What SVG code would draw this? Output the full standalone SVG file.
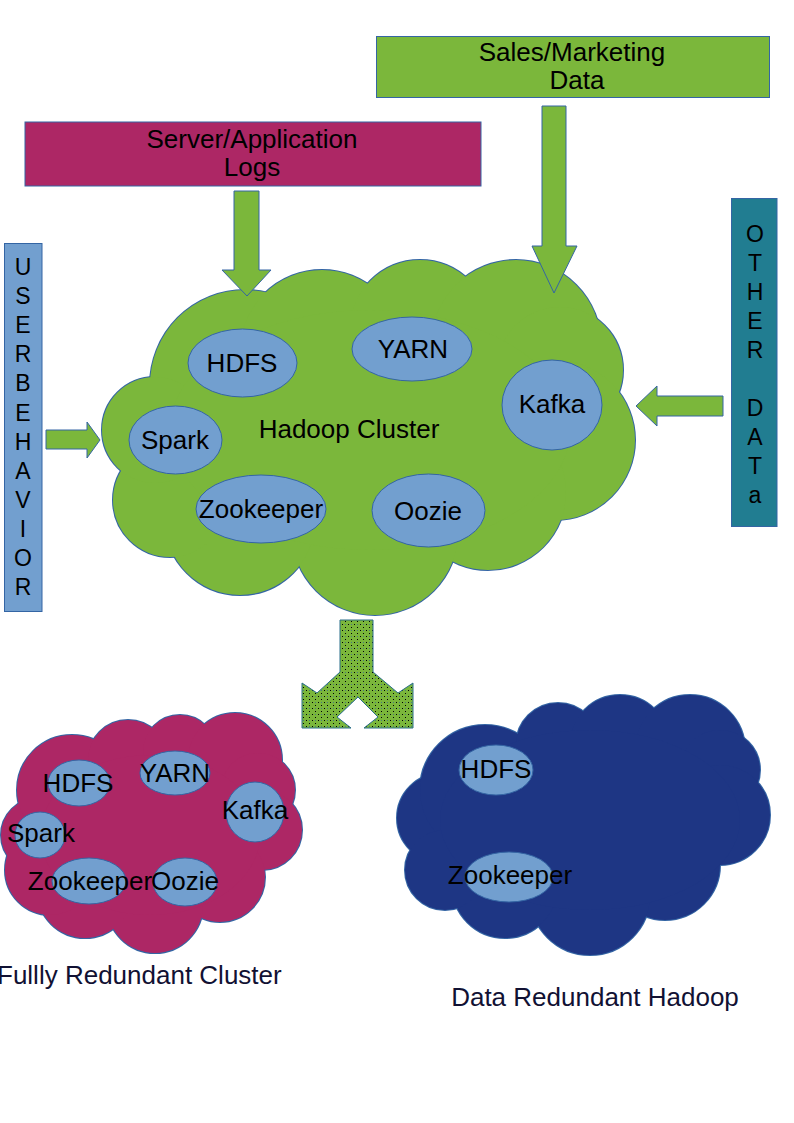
<svg xmlns="http://www.w3.org/2000/svg" width="794" height="1123" viewBox="0 0 794 1123">
<defs>
<pattern id="dots" width="6" height="6" patternUnits="userSpaceOnUse">
<rect width="6" height="6" fill="#7bb73b"/>
<rect x="0" y="0" width="1" height="1" fill="#000"/>
<rect x="3" y="3" width="1" height="1" fill="#000"/>
<rect x="3" y="0" width="1" height="1" fill="#3465a4" opacity="0.7"/>
</pattern>
</defs>
<style>
text{font-family:"Liberation Sans",Arial,sans-serif;font-size:26px;fill:#000}
.c{text-anchor:middle}
.lbl{fill:#111133}
.g{fill:#7bb73b}
.pk{fill:#ad2765}
.bl{fill:#1e3684}
.cs{stroke:#3465a4;stroke-width:2}
.el{fill:#729fcf;stroke:#3465a4;stroke-width:1}
.box{stroke:#3465a4;stroke-width:1}
.arr{fill:#7bb73b;stroke:#3465a4;stroke-width:1}
.v{font-size:23px}
</style>
<rect width="794" height="1123" fill="#fff"/>

<g id="hadoop-cluster">
<g class="g cs">
<circle cx="245" cy="385" r="95"/><circle cx="322" cy="352" r="82"/><circle cx="420" cy="330" r="70"/><circle cx="516" cy="345" r="85"/><circle cx="560" cy="370" r="63"/><circle cx="555" cy="440" r="80"/><circle cx="488" cy="492" r="78"/><circle cx="375" cy="532" r="83"/><circle cx="240" cy="520" r="75"/><circle cx="170" cy="500" r="57"/><circle cx="155" cy="430" r="53"/>
</g>
<g class="g">
<circle cx="245" cy="385" r="95"/><circle cx="322" cy="352" r="82"/><circle cx="420" cy="330" r="70"/><circle cx="516" cy="345" r="85"/><circle cx="560" cy="370" r="63"/><circle cx="555" cy="440" r="80"/><circle cx="488" cy="492" r="78"/><circle cx="375" cy="532" r="83"/><circle cx="240" cy="520" r="75"/><circle cx="170" cy="500" r="57"/><circle cx="155" cy="430" r="53"/>
<ellipse cx="370" cy="430" rx="200" ry="120"/>
</g>
<text class="c" x="349" y="438">Hadoop Cluster</text>
</g>
<g id="hc-hdfs"><ellipse class="el" cx="242.5" cy="363" rx="54.5" ry="34"/><text class="c" x="242" y="372">HDFS</text></g>
<g id="hc-yarn"><ellipse class="el" cx="412" cy="349" rx="60" ry="32"/><text class="c" x="413" y="358">YARN</text></g>
<g id="hc-kafka"><ellipse class="el" cx="552" cy="405" rx="50" ry="45"/><text class="c" x="552" y="413">Kafka</text></g>
<g id="hc-spark"><ellipse class="el" cx="175.5" cy="440" rx="46.5" ry="34"/><text class="c" x="175" y="449">Spark</text></g>
<g id="hc-zookeeper"><ellipse class="el" cx="261" cy="509" rx="65" ry="34"/><text class="c" x="261" y="518">Zookeeper</text></g>
<g id="hc-oozie"><ellipse class="el" cx="428.5" cy="510.5" rx="56.5" ry="36.5"/><text class="c" x="428" y="520">Oozie</text></g>

<g id="fully-redundant">
<g class="pk cs">
<circle cx="38" cy="835" r="37"/><circle cx="72" cy="790" r="55"/><circle cx="128" cy="760" r="40"/><circle cx="180" cy="752" r="37"/><circle cx="235" cy="760" r="47"/><circle cx="258" cy="790" r="37"/><circle cx="262" cy="830" r="40"/><circle cx="220" cy="877" r="45"/><circle cx="155" cy="905" r="48"/><circle cx="85" cy="890" r="48"/><circle cx="50" cy="870" r="45"/>
</g>
<g class="pk">
<circle cx="38" cy="835" r="37"/><circle cx="72" cy="790" r="55"/><circle cx="128" cy="760" r="40"/><circle cx="180" cy="752" r="37"/><circle cx="235" cy="760" r="47"/><circle cx="258" cy="790" r="37"/><circle cx="262" cy="830" r="40"/><circle cx="220" cy="877" r="45"/><circle cx="155" cy="905" r="48"/><circle cx="85" cy="890" r="48"/><circle cx="50" cy="870" r="45"/>
<ellipse cx="150" cy="835" rx="110" ry="80"/>
</g>
<text class="lbl" x="-3" y="984">Fullly Redundant Cluster</text>
</g>
<g id="fr-hdfs"><ellipse class="el" cx="79" cy="783" rx="31" ry="23"/><text class="c" x="78" y="792">HDFS</text></g>
<g id="fr-yarn"><ellipse class="el" cx="175" cy="773" rx="35" ry="22"/><text class="c" x="175" y="782">YARN</text></g>
<g id="fr-kafka"><ellipse class="el" cx="255" cy="812" rx="29" ry="30"/><text class="c" x="255" y="819">Kafka</text></g>
<g id="fr-spark"><ellipse class="el" cx="40" cy="835" rx="25" ry="23"/><text class="c" x="41" y="842">Spark</text></g>
<g id="fr-zookeeper"><ellipse class="el" cx="89" cy="881" rx="37" ry="23"/><text class="c" x="90" y="890">Zookeeper</text></g>
<g id="fr-oozie"><ellipse class="el" cx="185" cy="882" rx="32" ry="24"/><text class="c" x="185" y="890">Oozie</text></g>

<g id="data-redundant">
<g class="bl cs">
<circle cx="442" cy="818" r="45"/><circle cx="485" cy="790" r="65"/><circle cx="558" cy="745" r="42"/><circle cx="620" cy="745" r="50"/><circle cx="690" cy="750" r="55"/><circle cx="720" cy="770" r="40"/><circle cx="720" cy="815" r="50"/><circle cx="665" cy="865" r="55"/><circle cx="590" cy="895" r="60"/><circle cx="505" cy="885" r="53"/><circle cx="445" cy="870" r="40"/>
</g>
<g class="bl">
<circle cx="442" cy="818" r="45"/><circle cx="485" cy="790" r="65"/><circle cx="558" cy="745" r="42"/><circle cx="620" cy="745" r="50"/><circle cx="690" cy="750" r="55"/><circle cx="720" cy="770" r="40"/><circle cx="720" cy="815" r="50"/><circle cx="665" cy="865" r="55"/><circle cx="590" cy="895" r="60"/><circle cx="505" cy="885" r="53"/><circle cx="445" cy="870" r="40"/>
<ellipse cx="590" cy="820" rx="150" ry="90"/>
</g>
<text class="c lbl" x="595" y="1006">Data Redundant Hadoop</text>
</g>
<g id="dr-hdfs"><ellipse class="el" cx="496" cy="770" rx="37" ry="25"/><text class="c" x="496" y="778">HDFS</text></g>
<g id="dr-zookeeper"><ellipse class="el" cx="509" cy="877" rx="44" ry="25"/><text class="c" x="510" y="884">Zookeeper</text></g>

<g id="server-logs">
<rect class="box pk" x="25" y="122" width="456" height="64"/>
<text class="c" x="252" y="148">Server/Application</text>
<text class="c" x="252" y="176">Logs</text>
</g>
<g id="sales-data">
<rect class="box g" x="376.5" y="36.5" width="393" height="61"/>
<text class="c" x="572" y="61">Sales/Marketing</text>
<text class="c" x="577" y="89">Data</text>
</g>
<g id="user-behavior">
<rect class="box" fill="#729fcf" x="4.5" y="243.5" width="37.5" height="368"/>
<text class="c v" x="23" y="275">U<tspan x="23" dy="29.1">S</tspan><tspan x="23" dy="29.1">E</tspan><tspan x="23" dy="29.1">R</tspan><tspan x="23" dy="29.1">B</tspan><tspan x="23" dy="29.1">E</tspan><tspan x="23" dy="29.1">H</tspan><tspan x="23" dy="29.1">A</tspan><tspan x="23" dy="29.1">V</tspan><tspan x="23" dy="29.1">I</tspan><tspan x="23" dy="29.1">O</tspan><tspan x="23" dy="29.1">R</tspan></text>
</g>
<g id="other-data">
<rect class="box" fill="#217d91" x="731.5" y="198.5" width="45.5" height="328"/>
<text class="c v" x="755" y="242">O<tspan x="755" dy="29">T</tspan><tspan x="755" dy="29">H</tspan><tspan x="755" dy="29">E</tspan><tspan x="755" dy="29">R</tspan><tspan x="755" dy="58">D</tspan><tspan x="755" dy="29">A</tspan><tspan x="755" dy="29">T</tspan><tspan x="755" dy="29">a</tspan></text>
</g>

<g id="connectors">
<polygon class="arr" points="234,191 259,191 259,270 271,270 247,296 222,270 234,270"/>
<polygon class="arr" points="542,106 566,106 566,246 577,246 554,293 532,246 542,246"/>
<polygon class="arr" points="46,430 87,430 87,422 100,440 87,458 87,449 46,449"/>
<polygon class="arr" points="723,396 657,396 657,386 636,406 657,426 657,416 723,416"/>
<polygon fill="url(#dots)" stroke="#2a6f8a" stroke-width="1" points="340,620 373,620 373,672 398,693 413,683 413,728 364,728 378,717 358,697 337,717 351,728 302,728 302,683 317,693 340,672"/>
</g>
</svg>
